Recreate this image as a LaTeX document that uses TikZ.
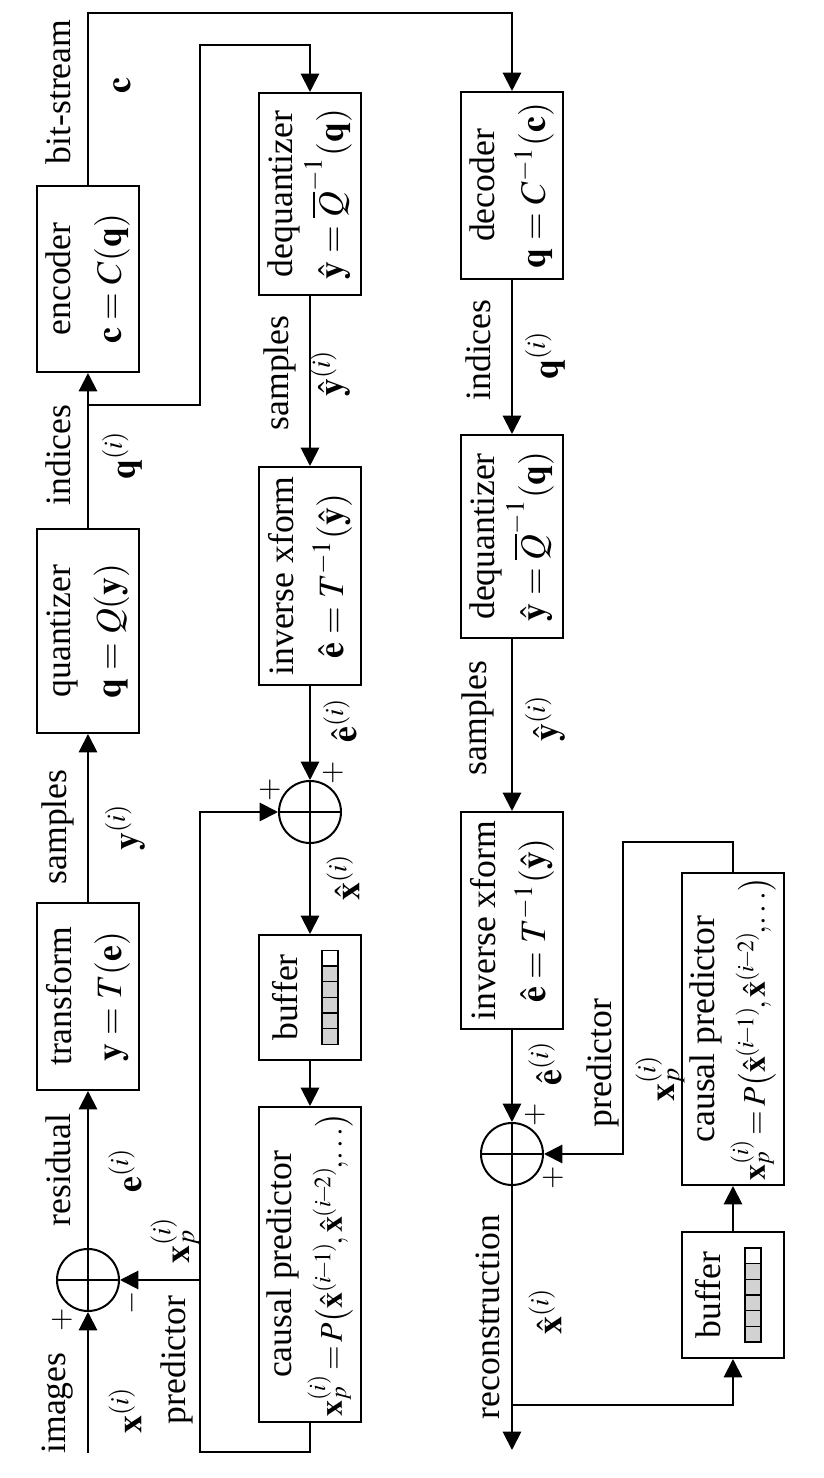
\documentclass[tikz,border=0pt]{standalone}
\usepackage{mathptmx}
\usepackage{fontspec}
\setmainfont{Liberation Serif}
\usepackage{tikz}
\usetikzlibrary{arrows.meta}

\newcommand{\causalformula}{\resizebox{91pt}{!}{$\mathbf{x}_p^{(i)}\!=\!P\bigl(\hat{\mathbf{x}}^{(i\!-\!1)}\!,\hat{\mathbf{x}}^{(i\!-\!2)}\!,\!\ldots\bigr)$}}

\begin{document}
\begin{tikzpicture}[rotate=90, transform shape, x=0.3pt, y=0.3pt, line width=0.6pt,
	>={Triangle[length=5.5pt, width=5.5pt]}, font=\fontsize{10.7}{15}\selectfont,
	block/.style={draw, rectangle, minimum height=30.6pt, inner sep=1pt, align=center},
	adder/.style={draw, circle, minimum size=18.6pt, inner sep=0pt,
		path picture={\draw (path picture bounding box.north) -- (path picture bounding box.south)
			(path picture bounding box.east) -- (path picture bounding box.west);}},
	sign/.style={inner sep=0pt, font=\small}]
	\useasboundingbox (0,0) rectangle (1478,824);
	\node[adder] (Adder1) at (198,736) {};
	\node[block, minimum width=56.1pt] (Transform) at (481.5,736) {transform\\$\mathbf{y}=T(\mathbf{e})$};
	\node[block, minimum width=61.2pt] (Quantizer) at (847,736) {quantizer\\$\mathbf{q}=Q(\mathbf{y})$};
	\node[block, minimum width=55.8pt] (Encoder) at (1199,736) {encoder\\$\mathbf{c}=C(\mathbf{q})$};
	\node[block, minimum width=60.6pt] (Dequantizer1) at (1284,514) {dequantizer\\$\hat{\mathbf{y}}=\overline{Q}^{-1}(\mathbf{q})$};
	\node[block, minimum width=65.4pt] (Inverse1) at (902,514) {inverse xform\\$\hat{\mathbf{e}}=T^{-1}(\hat{\mathbf{y}})$};
	\node[adder] (Adder2) at (666,514) {};
	\node[block, minimum width=37.5pt] (Buffer1) at (480.5,514) {buffer\\\mbox{}};
	\node[block, minimum width=94.5pt] (Causal1) at (213.5,514) {causal predictor\\\causalformula};
	\node[block, minimum width=56.1pt] (Decoder) at (1292.5,312) {decoder\\$\mathbf{q}=C^{-1}(\mathbf{c})$};
	\node[block, minimum width=60.9pt] (Dequantizer2) at (941.5,312) {dequantizer\\$\hat{\mathbf{y}}=\overline{Q}^{-1}(\mathbf{q})$};
	\node[block, minimum width=65.1pt] (Inverse2) at (557.5,312) {inverse xform\\$\hat{\mathbf{e}}=T^{-1}(\hat{\mathbf{y}})$};
	\node[adder] (Adder3) at (324,312) {};
	\node[block, minimum width=37.8pt] (Buffer2) at (183,91) {buffer\\\mbox{}};
	\node[block, minimum width=93.6pt] (Causal2) at (449,91) {causal predictor\\\causalformula};
	\foreach \i/\c in {0/gray!35,1/gray!35,2/gray!35,3/gray!35,4/gray!35,5/white} {
		\draw[fill=\c, line width=0.4pt] ([shift={(-47+\i*15.67,-28)}]Buffer1.center) rectangle ++(15.67,16);
		\draw[fill=\c, line width=0.4pt] ([shift={(-47+\i*15.67,-28)}]Buffer2.center) rectangle ++(15.67,16);
	}
	\coordinate (input) at (25,736);
	\coordinate (q split) at (1073,736);
	\coordinate (q corner) at (1433,624);
	\coordinate (c corner) at (1465,736);
	\coordinate (loop corner) at (26,624);
	\coordinate (minus split) at (198,624);
	\coordinate (output) at (28,312);
	\coordinate (rec split) at (73,312);
	\coordinate (pred corner) at (636,201);
	\node (images) at (75,766) {images};
	\node (x) at (68,699) {$\mathbf{x}^{(i)}$};
	\node[sign] (plus1) at (158,762) {$+$};
	\node[sign] (minus1) at (175,692) {$-$};
	\node (residual) at (308,766) {residual};
	\node (e) at (308,699) {$\mathbf{e}^{(i)}$};
	\node (samples1) at (651,766) {samples};
	\node (y) at (651,699) {$\mathbf{y}^{(i)}$};
	\node (indices1) at (1023,766) {indices};
	\node (q1) at (1023,702) {$\mathbf{q}^{(i)}$};
	\node (bit-stream) at (1386,766) {bit-stream};
	\node (c) at (1392,702) {$\mathbf{c}$};
	\node (predictor1) at (118,647) {predictor};
	\node (xp1) at (238,649) {$\mathbf{x}_p^{(i)}$};
	\node (samples2) at (1105,544) {samples};
	\node (yhat2) at (1105,494) {$\hat{\mathbf{y}}^{(i)}$};
	\node (ehat2) at (758,484) {$\hat{\mathbf{e}}^{(i)}$};
	\node[sign] (plus2a) at (688,554) {$+$};
	\node[sign] (plus2b) at (705,491) {$+$};
	\node (xhat2) at (601,481) {$\hat{\mathbf{x}}^{(i)}$};
	\node (indices3) at (1128,346) {indices};
	\node (q3) at (1123,279) {$\mathbf{q}^{(i)}$};
	\node (samples3) at (760,346) {samples};
	\node (yhat3) at (760,279) {$\hat{\mathbf{y}}^{(i)}$};
	\node (ehat3) at (415,279) {$\hat{\mathbf{e}}^{(i)}$};
	\node[sign] (plus3a) at (363,289) {$+$};
	\node[sign] (plus3b) at (300,271) {$+$};
	\node (predictor3) at (415,221) {predictor};
	\node (xp3) at (400,164) {$\mathbf{x}_p^{(i)}$};
	\node (reconstruction) at (161,336) {reconstruction};
	\node (xhat3) at (167,279) {$\hat{\mathbf{x}}^{(i)}$};
	\draw[->] (input) -- (Adder1);
	\draw[->] (Adder1) -- (Transform);
	\draw[->] (Transform) -- (Quantizer);
	\draw[->] (Quantizer) -- (Encoder);
	\draw[->] (q split) |- (q corner) |- (Dequantizer1);
	\draw[->] (Encoder) -- (c corner) |- (Decoder);
	\draw[->] (Dequantizer1) -- (Inverse1);
	\draw[->] (Inverse1) -- (Adder2);
	\draw[->] (Adder2) -- (Buffer1);
	\draw[->] (Buffer1) -- (Causal1);
	\draw[->] (Causal1.west) -| (loop corner) -| (Adder2);
	\draw[->] (minus split) -- (Adder1);
	\draw[->] (Decoder) -- (Dequantizer2);
	\draw[->] (Dequantizer2) -- (Inverse2);
	\draw[->] (Inverse2) -- (Adder3);
	\draw[->] (Adder3) -- (output);
	\draw[->] (rec split) |- (Buffer2);
	\draw[->] (Buffer2) -- (Causal2);
	\draw[->] (Causal2.east) -| (pred corner) -| (Adder3);
\end{tikzpicture}
\end{document}
